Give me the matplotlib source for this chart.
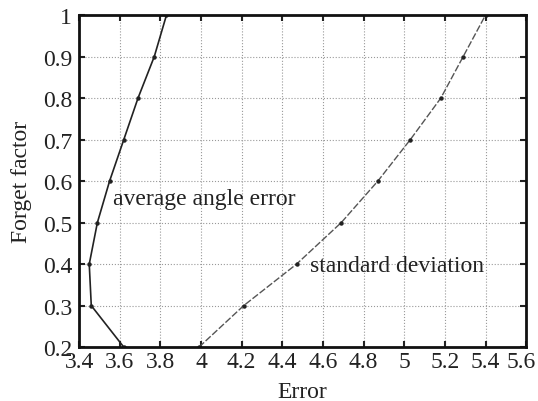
import matplotlib
matplotlib.use("Agg")
import matplotlib.pyplot as plt
import matplotlib.transforms as mtransforms
import numpy as np

plt.rcParams['font.family'] = ['Liberation Serif', 'DejaVu Serif']

forget_factor = [0.2, 0.3, 0.4, 0.5, 0.6, 0.7, 0.8, 0.9, 1.0]
avg_angle_error = [3.62, 3.46, 3.45, 3.49, 3.55, 3.62, 3.69, 3.77, 3.83]
std_deviation = [3.99, 4.21, 4.47, 4.69, 4.87, 5.03, 5.18, 5.29, 5.40]

x_ticks = [3.4, 3.6, 3.8, 4.0, 4.2, 4.4, 4.6, 4.8, 5.0, 5.2, 5.4, 5.6]
x_tick_labels = ['3.4', '3.6', '3.8', '4', '4.2', '4.4', '4.6', '4.8', '5', '5.2', '5.4', '5.6']
y_ticks = [0.2, 0.3, 0.4, 0.5, 0.6, 0.7, 0.8, 0.9, 1.0]
y_tick_labels = ['0.2', '0.3', '0.4', '0.5', '0.6', '0.7', '0.8', '0.9', '1']

FS = 17

fig = plt.figure(figsize=(5.38, 4.02), dpi=100)
ax = fig.add_axes([0.147, 0.134, 0.831, 0.826])

ax.plot(avg_angle_error, forget_factor, color='#222222', lw=1.2,
        marker='o', ms=2.2)
ax.plot(std_deviation, forget_factor, color='#555555', lw=1.0,
        linestyle=(0, (5, 1.5)), marker='o', ms=2.2, mfc='#222222', mec='#222222')

ax.text(3.565, 0.557, 'average angle error', fontsize=FS, va='center', ha='left',
        color='#222222')
ax.text(4.535, 0.396, 'standard deviation', fontsize=FS, va='center', ha='left',
        color='#222222')

ax.set_xlim(3.4, 5.6)
ax.set_ylim(0.2, 1.0)
ax.set_xticks(x_ticks)
ax.set_xticklabels(x_tick_labels)
ax.set_yticks(y_ticks)
ax.set_yticklabels(y_tick_labels)
ax.grid(True, linestyle=':', color='#999999', lw=0.8)
ax.tick_params(direction='in', top=True, right=True, length=4, width=1.5,
               labelsize=FS, colors='#222222')
ax.tick_params(axis='x', pad=2.5)
ax.tick_params(axis='y', pad=5)
for s in ax.spines.values():
    s.set_linewidth(2.0)
    s.set_color('#111111')

# nudge the last x tick label inward so it stays inside the figure
last = ax.get_xticklabels()[-1]
last.set_transform(last.get_transform() +
                   mtransforms.ScaledTranslation(-5 / 100, 0, fig.dpi_scale_trans))

ax.set_xlabel('Error', fontsize=FS, color='#222222', labelpad=7)
ax.set_ylabel('Forget factor', fontsize=FS, color='#222222', labelpad=8)

fig.savefig('out.png', dpi=100)
